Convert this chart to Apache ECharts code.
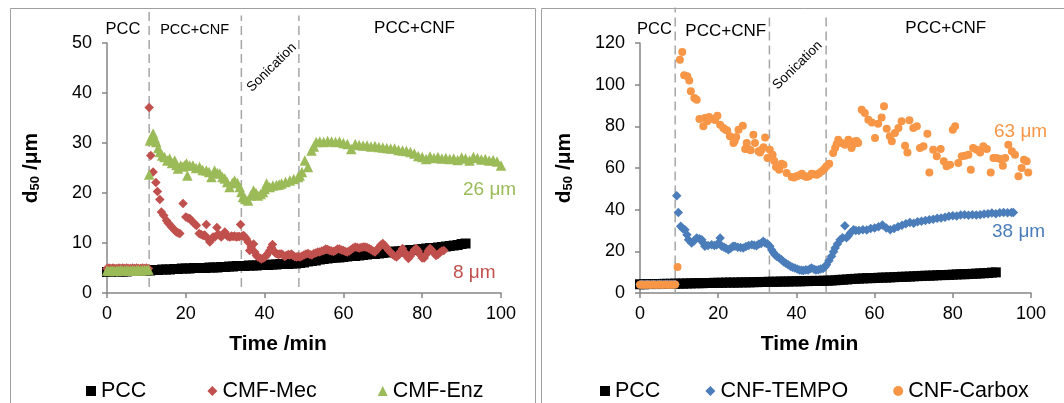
<!DOCTYPE html>
<html><head><meta charset="utf-8">
<script src="https://cdn.jsdelivr.net/npm/echarts@6.0.0/dist/echarts.min.js"></script>
<style>html,body{margin:0;padding:0;background:#fff}#c{width:1064px;height:403px}</style>
</head><body><div id="c"></div>
<script>
// ---------- data (time in min, d50 in µm) ----------
const pccTime = [0,1,2,3,4,5,6,7,8,9,10,11,12,13,14,15,16,17,18,19,20,21,22,23,24,25,26,27,28,29,30,31,32,33,34,35,36,37,38,39,40,41,42,43,44,45,46,47,48,49,50,51,52,53,54,55,56,57,58,59,60,61,62,63,64,65,66,67,68,69,70,71,72,73,74,75,76,77,78,79,80,81,82,83,84,85,86,87,88,89,90,91];
const pccD50 = [4.2,4.2,4.3,4.3,4.3,4.3,4.4,4.4,4.4,4.5,4.5,4.5,4.6,4.6,4.7,4.7,4.7,4.8,4.8,4.9,4.9,4.9,5.0,5.0,5.0,5.0,5.1,5.1,5.1,5.2,5.2,5.3,5.3,5.4,5.4,5.4,5.5,5.5,5.5,5.6,5.6,5.6,5.7,5.7,5.8,5.8,5.8,5.9,5.9,6.0,6.1,6.3,6.4,6.5,6.7,6.8,6.9,7.0,7.1,7.1,7.2,7.3,7.4,7.4,7.5,7.6,7.7,7.8,7.8,7.9,8.0,8.1,8.2,8.3,8.3,8.4,8.5,8.6,8.6,8.7,8.8,8.9,9.0,9.0,9.1,9.2,9.3,9.4,9.5,9.6,9.8,9.9];

const mecTime = [0,0.5,1,1.5,2,2.5,3,3.5,4,4.5,5,5.5,6,6.5,7,7.5,8,8.5,9,9.5,10,10.5,
 10.7,11.1,11.7,12.4,12.8,13.4,13.8,14.4,15.1,15.5,15.9,16.4,16.8,17.2,17.6,18.1,18.5,19.3,20.0,20.5,21.0,21.4,21.8,22.3,22.7,23.4,23.9,24.4,24.8,25.2,25.7,26.1,26.5,26.9,27.4,27.9,28.2,28.6,29.0,29.4,29.9,30.3,30.7,31.2,31.6,32.0,32.4,32.8,33.2,33.6,33.9,34.3,34.7,35.0,35.4,35.8,36.2,36.6,37.2,37.5,37.9,38.3,38.8,39.2,39.7,40.1,40.5,40.9,41.3,41.7,42.0,42.4,42.7,43.0,43.5,43.9,44.3,44.7,45.1,45.5,46.0,46.4,46.8,47.2,47.6,48.1,
 48.5,49,49.5,50,50.5,51,51.5,52,52.5,53,53.5,54,54.5,55,55.5,56,56.5,57,57.5,58,58.5,59,59.5,60,60.5,61,61.5,62,62.5,63,63.5,64,64.5,65,65.5,66,66.5,67,67.5,
 68,68.5,69,69.5,70,70.5,71,71.5,72,72.5,73,73.5,74,74.5,75,75.5,76,76.5,77,77.5,78,78.5,79,79.5,80,80.5,81,81.5,82,82.5,83,83.5,84,84.5,85,85.5];
const mecD50 = [4.9,5.0,4.9,5.0,4.9,4.9,5.0,4.9,5.0,4.9,5.0,4.9,4.9,5.0,4.9,5.0,4.9,4.9,5.0,4.9,5.0,4.9,
 37.1,27.5,24.2,22.1,20.3,18.7,16.2,15.5,14.5,14.0,13.7,13.2,12.9,12.5,12.2,12.0,11.9,17.9,15.2,15.0,14.9,14.5,14.2,13.8,13.5,11.9,11.7,11.5,11.6,13.7,10.8,10.2,10.8,11.2,11.2,13.1,11.8,11.5,11.2,11.6,12.2,11.6,11.3,11.2,11.4,11.3,11.4,11.2,11.3,11.3,13.7,11.4,11.5,11.2,10.8,10.2,8.5,9.2,9.8,8.2,7.5,7.2,7.0,6.8,7.0,7.2,7.5,8.0,8.5,9.1,9.7,8.4,8.0,7.9,7.7,7.8,7.8,7.6,7.3,7.5,7.7,7.6,7.8,7.5,7.3,7.2,
 7.3,7.2,7.4,7.6,7.8,7.9,7.7,7.6,7.9,8.0,8.2,8.2,8.4,8.5,8.8,8.7,8.5,8.4,8.3,8.5,8.8,8.8,8.6,8.5,8.3,8.2,8.4,8.7,9.0,9.2,9.1,9.0,9.1,9.2,9.2,9.1,8.9,8.7,8.4,
 8.2,8.6,9.1,9.6,9.9,9.5,9.0,8.5,8.1,7.7,7.4,7.2,7.6,8.3,8.9,8.2,7.4,6.9,7.4,8.0,8.6,8.9,8.4,7.6,7.0,7.0,7.7,8.4,8.9,8.5,8.0,7.5,7.7,8.1,8.4,8.5];

const enzTime = [0,0.5,1,1.5,2,2.5,3,3.5,4,4.5,5,5.5,6,6.5,7,7.5,8,8.5,9,9.5,10,10.5,
 10.7,10.9,11.3,11.7,12.1,12.5,13.0,13.4,14.0,14.6,15.3,15.9,16.5,17.2,17.6,18.0,18.7,19.3,19.8,20.2,20.4,21.0,21.8,22.6,23.5,24.3,25.2,25.9,26.5,27.3,28.0,28.6,29.3,29.9,30.5,31.1,31.8,32.4,33.1,33.7,34.1,34.5,35.1,35.8,36.5,37.2,37.8,38.3,39.0,39.6,40.0,40.5,41.3,42.1,43.0,43.7,44.3,45.3,46.4,47.4,48.5,48.9,49.5,50.2,51.0,51.9,52.5,53.1,
 54,55,56,57,58,59,60,61,62,63,64,65,66,67,68,69,70,71,72,73,74,75,76,77,78,79,80,81,82,83,84,85,86,87,88,89,90,91,92,93,94,95,96,97,98,99,100];
const enzD50 = [4.5,4.4,4.5,4.5,4.4,4.5,4.5,4.6,4.5,4.5,4.6,4.5,4.5,4.6,4.5,4.6,4.6,4.5,4.6,4.6,4.6,4.7,
 23.7,30.5,31.2,31.9,31.0,30.2,29.0,28.2,27.5,27.2,26.5,26.9,26.0,26.5,25.6,24.9,25.5,25.3,25.6,25.9,23.5,25.5,25.5,25.0,25.2,24.6,24.5,24.2,23.2,24.5,24.0,23.9,23.2,22.9,22.2,21.2,22.0,22.5,22.0,21.2,20.2,19.2,18.8,18.5,19.5,20.5,20.0,19.5,19.8,20.2,20.8,21.9,21.2,21.5,21.6,21.7,21.9,22.2,22.5,22.8,23.2,23.5,24.2,26.5,25.2,28.5,29.3,30.2,
 30.3,30.2,30.4,30.3,30.2,30.3,30.0,29.8,28.8,29.8,29.6,29.5,29.5,29.3,29.4,29.2,29.1,29.0,28.9,28.9,28.6,28.5,28.4,28.2,27.9,27.4,27.2,26.8,27.3,27.0,27.2,26.9,27.0,26.8,26.9,26.6,27.1,26.9,26.5,27.2,27.0,26.7,26.8,26.5,26.6,26.3,25.5];

const tempoTime = [0,0.5,1,1.5,2,2.5,3,3.5,4,4.5,5,5.5,6,6.5,7,7.5,8,8.5,9,
 9.4,9.8,10.4,10.9,11.5,12.0,12.4,13.2,13.8,14.5,15.2,15.8,16.2,16.6,17.4,18.3,19.0,19.6,20.1,20.5,20.9,21.5,22.0,22.6,23.2,23.8,24.3,25.0,25.7,26.4,27.1,27.8,28.6,29.2,29.8,30.4,31.0,31.5,32.0,32.6,33.2,33.7,34.1,34.5,35.0,35.6,36.2,36.7,37.3,37.9,38.5,39.0,39.6,40.2,40.8,41.3,41.8,42.4,43.0,43.5,43.9,44.5,45.0,45.6,46.2,46.8,47.3,47.7,48.3,49.0,49.5,49.9,50.5,51.2,51.8,52.4,52.8,53.3,53.9,54.6,55.2,
 56,57,58,59,60,61,62,63,64,65,66,67,68,69,70,71,72,73,74,75,76,77,78,79,80,81,82,83,84,85,86,87,88,89,90,91,92,93,94,95,95.5];
const tempoD50 = [4.1,4.2,4.1,4.2,4.2,4.1,4.2,4.2,4.1,4.2,4.2,4.2,4.1,4.2,4.2,4.2,4.1,4.2,4.2,
 46.7,38.7,32.0,31.0,30.4,28.0,25.6,24.0,25.0,26.4,26.0,25.6,24.0,22.4,22.8,23.2,22.8,23.0,24.0,26.4,22.4,22.0,21.5,20.8,21.5,22.4,22.4,22.0,21.8,21.6,22.3,22.8,23.2,22.9,22.7,23.5,23.8,24.8,24.0,23.6,22.4,20.6,19.5,18.4,17.5,16.8,16.0,15.0,14.3,13.6,12.9,12.4,12.0,11.5,11.1,10.9,10.8,11.2,11.0,11.6,12.0,11.4,11.0,11.2,11.5,11.8,12.5,13.6,15.5,17.6,19.8,21.6,23.5,25.6,26.5,32.3,26.5,27.5,29.0,30.4,30.0,
 30.0,30.4,30.2,31.0,31.2,31.8,32.6,31.2,30.4,31.0,31.8,32.5,33.2,33.8,33.5,34.2,34.4,34.8,35.2,35.4,35.9,36.0,36.4,36.8,37.1,37.0,37.4,37.6,37.3,37.6,37.5,37.6,37.9,38.1,38.4,38.0,38.5,38.7,38.5,38.7,38.7];

const carboxTime = [0,0.5,1,1.5,2,2.5,3,3.5,4,4.5,5,5.5,6,6.5,7,7.5,8,8.5,9,
 9.6,10.2,10.8,11.3,12.1,12.6,13.0,13.9,14.5,15.2,16.2,16.6,17.2,17.7,18.7,19.2,19.8,20.5,21.3,21.8,22.3,23.0,23.9,24.2,24.6,25.2,26.3,26.9,27.3,27.7,28.3,29.0,29.4,30.3,30.7,31.1,31.6,32.0,32.6,33.2,33.9,34.3,34.8,35.6,36.2,36.7,37.5,38.8,39.4,40.1,40.7,41.4,42.0,42.6,43.2,43.9,44.5,45.2,45.8,46.5,47.1,47.7,48.4,
 49.4,49.9,50.3,50.7,51.6,52.4,53.3,53.7,54.1,54.6,55.0,55.4,55.8,56.7,57.5,58.4,59.3,60.1,60.9,61.8,62.4,63.1,63.9,64.4,65.2,66.1,66.9,67.8,68.4,68.9,69.9,70.8,71.6,72.5,73.5,74.0,75.0,75.9,76.9,77.7,78.4,79.3,80.0,80.6,81.4,82.3,83.1,84.0,84.6,85.2,86.1,87.0,87.8,88.7,89.7,90.4,91.2,92.1,92.8,93.4,94.2,95.1,95.9,96.8,97.6,98.2,98.9,99.3];
const carboxD50 = [4.0,4.1,4.0,4.0,4.1,4.0,4.0,4.1,4.0,4.0,4.1,4.0,4.0,4.1,4.0,4.0,4.1,4.0,4.1,
 12.5,112.0,115.7,104.5,104.0,102.0,96.8,93.6,92.8,83.5,80.0,84.0,82.5,84.5,83.5,83.0,85.1,80.8,79.2,78.5,78.0,75.2,72.0,73.0,74.9,78.4,80.3,69.1,72.0,69.1,68.5,76.0,72.0,68.0,67.5,68.8,70.0,74.7,64.8,68.8,66.4,63.5,60.5,59.2,62.0,61.6,57.6,55.7,55.5,56.0,56.5,57.3,56.2,55.7,56.0,57.3,57.0,56.8,57.5,58.4,59.5,60.8,62.0,
 67.2,69.6,71.5,73.6,72.0,71.2,73.6,72.5,69.6,71.5,72.8,73.0,72.0,88.0,86.4,83.2,81.9,74.4,81.3,84.3,89.6,78.9,75.2,72.8,76.8,79.2,82.4,70.7,67.5,82.9,79.2,80.0,69.6,70.4,76.5,57.9,68.8,65.6,69.1,63.2,60.8,61.6,78.4,80.0,62.4,65.6,65.9,66.4,59.2,69.6,68.8,67.5,70.4,69.1,57.9,64.8,64.8,64.3,61.1,64.8,71.2,68.0,66.4,56.0,60.0,64.0,63.2,57.9];

// phase boundaries (min)
const leftDividers = [10.7, 34.1, 48.7];
const rightDividers = [9.0, 33.1, 47.6];
const xTicks = {min: 0, max: 100, interval: 20};
const leftY = {min: 0, max: 50, interval: 10};
const rightY = {min: 0, max: 120, interval: 20};

// ---------- chart ----------
const FF = 'Liberation Sans, Arial, sans-serif';
const pts = (t, v) => t.map((x, i) => [x, v[i]]);
const C = {pcc: '#000000', mec: '#C0504D', enz: '#9BBB59', tempo: '#4A7DBA', carbox: '#F79646'};
const axisGray = '#868686';

function xAx(gi) {
  return {
    type: 'value', gridIndex: gi, min: xTicks.min, max: xTicks.max, interval: xTicks.interval,
    axisLine: {show: true, onZero: false, lineStyle: {color: axisGray, width: 1.5}},
    axisTick: {show: true, length: 5, lineStyle: {color: axisGray, width: 1.5}},
    splitLine: {show: false},
    axisLabel: {fontSize: 18, color: '#000', margin: 12, fontFamily: FF, showMaxLabel: true, showMinLabel: true},
    name: 'Time /min', nameLocation: 'middle', nameGap: 41,
    nameTextStyle: {fontSize: 21, fontWeight: 'bold', color: '#000', fontFamily: FF, padding: [0, 52, 0, 0]}
  };
}
function yAx(gi, r) {
  return {
    type: 'value', gridIndex: gi, min: r.min, max: r.max, interval: r.interval,
    axisLine: {show: true, lineStyle: {color: axisGray, width: 1.5}},
    axisTick: {show: true, length: 5, lineStyle: {color: axisGray, width: 1.5}},
    splitLine: {show: false},
    axisLabel: {fontSize: 18, color: '#000', margin: 15, fontFamily: FF, showMaxLabel: true},
    name: '{a|d}{b|50}{a| /μm}', nameLocation: 'middle', nameGap: 65,
    nameTextStyle: {
      rich: {
        a: {fontSize: 21, fontWeight: 'bold', color: '#000', fontFamily: FF},
        b: {fontSize: 13, fontWeight: 'bold', color: '#000', fontFamily: FF, verticalAlign: 'bottom'}
      }
    }
  };
}
function divider(xi, t, bottom, top) {
  return {
    type: 'line', xAxisIndex: xi, yAxisIndex: xi, data: [[t, bottom], [t, top]],
    symbol: 'none', clip: false, silent: true, z: 1, animation: false,
    lineStyle: {color: '#A6A6A6', width: 1.5, type: [9, 5]}
  };
}
function sc(name, xi, t, v, symbol, size, color) {
  return {
    type: 'scatter', name: name, xAxisIndex: xi, yAxisIndex: xi, data: pts(t, v),
    symbol: symbol, symbolSize: size, itemStyle: {color: color, opacity: 1}, z: 3, animation: false
  };
}
function txt(s, x, y, size, color, rot) {
  return {
    type: 'text', x: x, y: y, rotation: rot || 0, silent: true, z: 10,
    style: {text: s, fill: color || '#000', fontSize: size, fontFamily: FF, textAlign: 'center', textVerticalAlign: 'middle'}
  };
}
function ltxt(s, x, y, size, color) {
  return {
    type: 'text', x: x, y: y, silent: true, z: 10,
    style: {text: s, fill: color, fontSize: size, fontFamily: FF, textAlign: 'left', textVerticalAlign: 'middle'}
  };
}

const series = [
  divider(0, leftDividers[0], 1.2, 57), divider(0, leftDividers[1], 1.2, 55.5), divider(0, leftDividers[2], 1.2, 55.5),
  divider(1, rightDividers[0], 0.3, 137), divider(1, rightDividers[1], 0.3, 133.6), divider(1, rightDividers[2], 0.3, 133.6),
  sc('PCC', 0, pccTime, pccD50, 'rect', 10, C.pcc),
  sc('CMF-Mec', 0, mecTime, mecD50, 'diamond', 9.5, C.mec),
  sc('CMF-Enz', 0, enzTime, enzD50, 'triangle', 10.5, C.enz),
  sc('PCC', 1, pccTime, pccD50, 'rect', 10, C.pcc),
  sc('CNF-TEMPO', 1, tempoTime, tempoD50, 'diamond', 9.5, C.tempo),
  sc('CNF-Carbox', 1, carboxTime, carboxD50, 'circle', 8, C.carbox)
];

const legendBase = {
  orient: 'horizontal', top: 375, itemWidth: 10, itemHeight: 10, selectedMode: false,
  textStyle: {fontSize: 21.5, color: '#000', fontFamily: FF, padding: [0, 0, 0, 0]}
};

const option = {
  backgroundColor: '#fff',
  animation: false,
  grid: [
    {left: 107, top: 43, width: 394, height: 250, containLabel: false, outerBoundsMode: 'none'},
    {left: 640, top: 43, width: 391, height: 250, containLabel: false, outerBoundsMode: 'none'}
  ],
  xAxis: [xAx(0), xAx(1)],
  yAxis: [yAx(0, leftY), yAx(1, rightY)],
  legend: [
    Object.assign({}, legendBase, {left: 81, itemGap: 61, data: ['PCC', 'CMF-Mec', 'CMF-Enz']}),
    Object.assign({}, legendBase, {left: 595, itemGap: 45, data: ['PCC', 'CNF-TEMPO', 'CNF-Carbox']})
  ],
  series: series,
  graphic: [
    {type: 'rect', silent: true, shape: {x: 10.5, y: 8.5, width: 525, height: 420}, style: {fill: 'none', stroke: '#A0A0A0', lineWidth: 1}},
    {type: 'rect', silent: true, shape: {x: 541.5, y: 8.5, width: 540, height: 420}, style: {fill: 'none', stroke: '#A0A0A0', lineWidth: 1}},
    txt('PCC', 123, 29.5, 16.5), txt('PCC+CNF', 194.6, 30, 14.5), txt('PCC+CNF', 414.5, 28.5, 17),
    txt('Sonication', 271.7, 67.5, 13.5, '#000', 0.775),
    txt('PCC', 654.5, 29.3, 16.5), txt('PCC+CNF', 725.7, 31.5, 17), txt('PCC+CNF', 945.7, 28.3, 17),
    txt('Sonication', 797.5, 65.3, 13.5, '#000', 0.775),
    ltxt('26 μm', 463, 190, 19, C.enz), ltxt('8 μm', 453, 272.5, 19, C.mec),
    ltxt('63 μm', 994, 131.7, 19, C.carbox), ltxt('38 μm', 992, 232, 19, C.tempo)
  ]
};
const chart = echarts.init(document.getElementById('c'), null, {renderer: 'canvas'});
chart.setOption(option);
</script>
</body></html>
